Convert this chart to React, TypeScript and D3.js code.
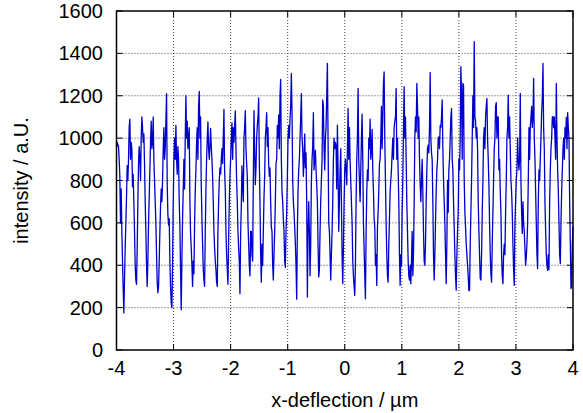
import React from "react";
import * as d3 from "d3";

// Intensity readings (a.U.), sampled on a uniform grid from -4 to 4 µm, in consecutive segments
const seg1 = [960, 980, 970, 960, 900, 820, 600, 760, 560, 420, 290, 175, 330, 480, 600, 720, 870, 800, 900, 1050, 1090, 900, 980, 950, 770, 830, 700, 560, 400, 330, 310, 480, 700, 880, 960, 900, 800, 1000, 1100, 1050, 980, 1020, 880, 700, 560, 400, 300, 420, 600, 720, 850, 980, 1080, 950, 980, 1100, 900, 800, 700, 600, 450, 320, 270, 300, 420, 560, 680, 760, 700, 800, 950, 1050, 900, 950, 1080, 1210, 780, 640, 590, 620, 420, 300, 220, 200, 400, 700, 900, 1000, 900, 1060, 900, 830];
const seg2 = [960, 900, 700, 580, 380, 190, 430, 620, 760, 900, 760, 1000, 1200, 1000, 1080, 950, 1000, 1050, 700, 550, 480, 400, 300, 420, 360, 600, 750, 850, 980, 1050, 900, 1150, 1220, 1000, 1100, 780, 620, 500, 380, 330, 300, 560, 760, 900, 1000, 1077, 950, 900, 960, 1046, 960, 900, 820, 700, 560, 480, 420, 380, 320, 300, 560, 700, 800, 860, 830, 900, 950, 880, 1000, 1135, 850, 760, 560, 450, 380, 310, 520, 700, 820, 900, 1000, 1072, 900, 1050, 980, 1050, 1129, 950, 800, 700, 560, 480, 420, 266, 550, 680];
const seg3 = [870, 780, 700, 1000, 1050, 1130, 950, 880, 820, 600, 500, 400, 350, 560, 560, 450, 420, 800, 1130, 950, 780, 860, 1000, 1060, 1100, 1190, 900, 700, 450, 320, 500, 400, 560, 720, 820, 1000, 1050, 1120, 960, 1050, 880, 820, 860, 700, 580, 560, 400, 330, 450, 560, 700, 880, 900, 1060, 1000, 1110, 950, 1200, 1277, 900, 750, 700, 620, 560, 420, 390, 560, 650, 820, 1000, 1060, 1000, 1090, 1150, 1305, 1120, 800, 700, 650, 580, 500, 400, 240, 560, 750, 850, 900, 1000, 1100, 1210, 1000, 950, 820, 900, 1020, 860];
const seg4 = [930, 700, 250, 560, 700, 560, 350, 500, 800, 900, 960, 1120, 850, 900, 943, 850, 780, 700, 500, 345, 380, 560, 700, 800, 900, 1180, 1150, 950, 850, 1000, 1050, 1200, 1353, 1000, 600, 560, 450, 330, 450, 560, 700, 900, 1000, 950, 980, 960, 760, 1061, 850, 560, 700, 850, 950, 700, 450, 313, 480, 700, 850, 900, 850, 780, 950, 1140, 900, 1050, 900, 800, 700, 600, 420, 350, 300, 258, 400, 700, 900, 1000, 1235, 900, 800, 700, 850, 1000, 1113, 900, 600, 480, 350, 242, 550, 750, 850, 800, 1000, 950];
const seg5 = [1090, 900, 950, 1041, 850, 750, 620, 580, 400, 450, 305, 580, 650, 750, 880, 900, 1000, 1150, 950, 1100, 1260, 1313, 1000, 800, 600, 450, 350, 320, 500, 620, 750, 800, 850, 930, 1000, 900, 1050, 1080, 1100, 1235, 900, 1000, 850, 700, 450, 305, 450, 400, 650, 800, 1050, 1243, 1000, 1100, 900, 700, 560, 420, 350, 330, 400, 313, 420, 560, 350, 450, 700, 1000, 1100, 1030, 1258, 1150, 1000, 1100, 900, 780, 700, 800, 900, 750, 560, 420, 400, 500, 700, 850, 950, 967, 930, 1050, 1310, 1000, 930, 900, 700, 450];
const seg6 = [330, 450, 600, 750, 850, 896, 1000, 1006, 950, 1060, 1050, 1100, 1180, 950, 800, 700, 600, 450, 313, 500, 800, 650, 850, 900, 1000, 1100, 1140, 900, 850, 700, 580, 450, 350, 282, 450, 560, 650, 900, 850, 1000, 1337, 1200, 900, 1258, 1250, 800, 650, 580, 500, 450, 400, 350, 280, 282, 500, 650, 800, 1000, 1200, 1050, 1455, 1100, 1080, 1000, 1050, 950, 700, 560, 450, 337, 330, 450, 650, 800, 1000, 1050, 950, 1100, 1150, 1187, 1000, 900, 780, 600, 450, 360, 320, 500, 650, 800, 950, 1000, 1150, 1167, 1000, 1100];
const seg7 = [1100, 850, 900, 750, 650, 450, 350, 313, 450, 500, 450, 650, 800, 1000, 1050, 1203, 1000, 1100, 950, 800, 750, 650, 500, 380, 305, 600, 700, 800, 850, 1000, 900, 850, 900, 1211, 800, 650, 550, 700, 600, 560, 480, 400, 440, 500, 600, 800, 1050, 900, 1050, 1100, 1150, 1050, 1100, 1282, 1000, 900, 750, 600, 450, 384, 700, 850, 800, 900, 1000, 1120, 1187, 1353, 1050, 950, 700, 560, 450, 400, 376, 450, 380, 700, 850, 950, 1000, 1100, 1101, 1050, 1100, 1000, 900, 1258, 1000, 850, 750, 600, 450, 408, 600, 750, 850, 950, 1000, 900, 1050, 1000, 1098, 950, 1120, 1050, 1000, 700, 500, 290, 300, 500, 580];

const xTicks = [-4, -3, -2, -1, 0, 1, 2, 3, 4];
const yTicks = [0, 200, 400, 600, 800, 1000, 1200, 1400, 1600];
const xDomain = [-4, 4];
const yDomain = [0, 1600];

const W = 583;
const H = 413;
const M = { left: 116.5, right: 573, top: 11, bottom: 350 };

export default function App() {
  const values = [...seg1, ...seg2, ...seg3, ...seg4, ...seg5, ...seg6, ...seg7];
  const n = values.length;
  const data = values.map((v, i) => ({ x: xDomain[0] + ((xDomain[1] - xDomain[0]) * i) / (n - 1), y: v }));

  const x = d3.scaleLinear().domain(xDomain).range([M.left, M.right]);
  const y = d3.scaleLinear().domain(yDomain).range([M.bottom, M.top]);
  const line = d3
    .line<{ x: number; y: number }>()
    .x((d) => x(d.x))
    .y((d) => y(d.y));

  const font = "'Liberation Sans', Arial, Helvetica, sans-serif";
  const tickLen = 6;

  return (
    <svg
      width={W}
      height={H}
      style={{ position: "absolute", left: 0, top: 0, background: "#fff" }}
      fontFamily={font}
    >
      <rect x={0} y={0} width={W} height={H} fill="#fff" />
      {/* grid */}
      {xTicks.slice(1, -1).map((t) => (
        <line key={"gx" + t} x1={x(t)} x2={x(t)} y1={M.top} y2={M.bottom} stroke="#444" strokeWidth={1} strokeDasharray="1 2" />
      ))}
      {yTicks.slice(1, -1).map((t) => (
        <line key={"gy" + t} x1={M.left} x2={M.right} y1={y(t)} y2={y(t)} stroke="#444" strokeWidth={1} strokeDasharray="1 2" />
      ))}
      {/* data */}
      <path d={line(data) || ""} fill="none" stroke="#0000cc" strokeWidth={1.3} strokeLinejoin="round" />
      {/* ticks */}
      {xTicks.map((t) => (
        <g key={"tx" + t}>
          <line x1={x(t)} x2={x(t)} y1={M.bottom} y2={M.bottom - tickLen} stroke="#000" strokeWidth={1} />
          <line x1={x(t)} x2={x(t)} y1={M.top} y2={M.top + tickLen} stroke="#000" strokeWidth={1} />
          <text x={x(t)} y={375} fontSize={20} textAnchor="middle" fill="#000">
            {t}
          </text>
        </g>
      ))}
      {yTicks.map((t) => (
        <g key={"ty" + t}>
          <line x1={M.left} x2={M.left + tickLen} y1={y(t)} y2={y(t)} stroke="#000" strokeWidth={1} />
          <line x1={M.right} x2={M.right - tickLen} y1={y(t)} y2={y(t)} stroke="#000" strokeWidth={1} />
          <text x={103} y={y(t) + 7} fontSize={20} textAnchor="end" fill="#000">
            {t}
          </text>
        </g>
      ))}
      {/* frame */}
      <rect x={M.left} y={M.top} width={M.right - M.left} height={M.bottom - M.top} fill="none" stroke="#000" strokeWidth={1.5} />
      {/* axis titles */}
      <text x={(M.left + M.right) / 2} y={407} fontSize={20} textAnchor="middle" fill="#000">
        x-deflection / µm
      </text>
      <text
        transform={`translate(28, ${(M.top + M.bottom) / 2}) rotate(-90)`}
        fontSize={20}
        textAnchor="middle"
        fill="#000"
      >
        intensity / a.U.
      </text>
    </svg>
  );
}
